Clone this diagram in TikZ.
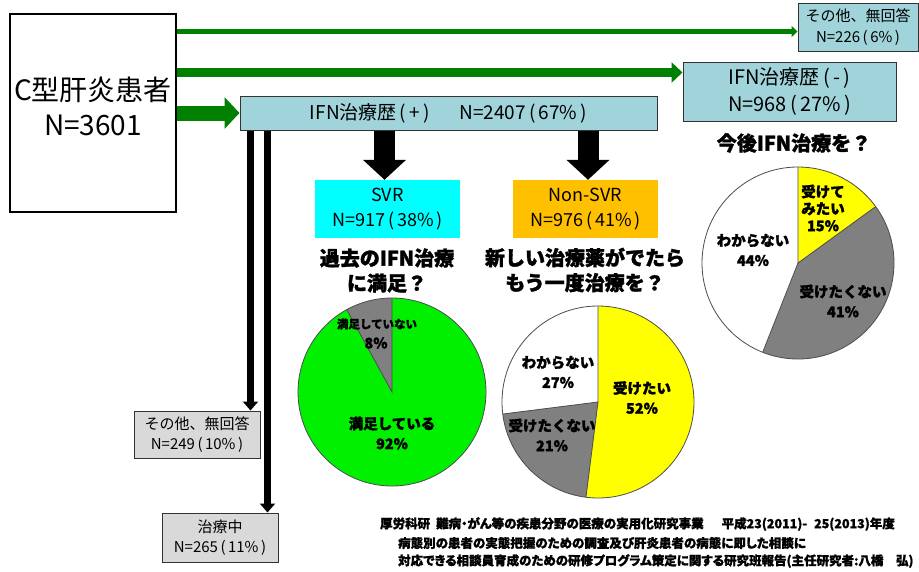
\documentclass[tikz,border=0pt]{standalone}
\usepackage{fontspec}
\setmainfont{Noto Sans CJK JP}
\newfontfamily\citefont{Noto Sans CJK JP}[RawFeature=+palt, BoldFeatures={FakeBold=1.2}]
\newfontfamily\heavyfont{Noto Sans CJK JP}[BoldFeatures={FakeBold=1.6}]
\usetikzlibrary{arrows.meta}
\definecolor{boxteal}{RGB}{160,212,218}
\definecolor{boxgray}{RGB}{217,217,217}
\definecolor{arrgreen}{RGB}{0,128,0}
\definecolor{svrcyan}{RGB}{0,255,255}
\definecolor{nsvrorange}{RGB}{255,192,0}
\definecolor{piegreen}{RGB}{0,240,0}
\definecolor{piegray}{RGB}{128,128,128}
\definecolor{pieyellow}{RGB}{255,255,0}
\newcommand{\pct}[1]{\,(\,#1\%\,)}
\begin{document}
\begin{tikzpicture}[x=1pt,y=-1pt,
  tbox/.style={draw=black!80, line width=1pt, fill=boxteal, align=center, inner sep=0pt},
  gbox/.style={draw=black!80, line width=1pt, fill=boxgray, align=center, inner sep=0pt},
  cbox/.style={align=center, inner sep=0pt},
  gthin/.style={arrgreen, line width=5pt, -{Triangle[length=6pt,width=11pt]}},
  gmid/.style={arrgreen, line width=9pt, -{Triangle[length=11pt,width=20pt]}},
  gthick/.style={arrgreen, line width=15pt, -{Triangle[length=15pt,width=31pt]}},
  bthin/.style={black, line width=7pt, -{Triangle[length=9pt,width=15pt]}},
  bthick/.style={black, line width=21pt, -{Triangle[length=20pt,width=42pt]}},
  heading/.style={font=\heavyfont\bfseries\fontsize{20}{25}\selectfont, align=center, inner sep=0pt},
  plabel/.style={font=\heavyfont\bfseries\fontsize{14.5}{20}\selectfont, align=center, inner sep=0pt},
  pieline/.style={draw=black!70, line width=0.8pt},
  citeline/.style={anchor=west, inner sep=0pt, font=\citefont\bfseries\fontsize{12.5}{14}\selectfont}
]
\useasboundingbox (0,0) rectangle (919,571);
\fill[white] (0,0) rectangle (919,571);

% main box
\node[draw=black, line width=1.8pt, fill=white, minimum width=166pt, minimum height=198pt, inner sep=0pt] (pat) at (93,113) {};
\node[cbox, font=\fontsize{28}{35}\selectfont] (pattext) at (93,106) {C型肝炎患者\\N=3601};

% boxes
\node[tbox, minimum width=120pt, minimum height=48pt, font=\fontsize{15}{21}\selectfont] (oth1) at (858,27) {その他、無回答\\N=226\pct{6}};
\node[tbox, minimum width=213pt, minimum height=59pt, font=\fontsize{20}{27}\selectfont] (ifnm) at (789.5,91.5) {IFN治療歴\,(\,-\,)\\N=968\pct{27}};
\node[tbox, minimum width=417pt, minimum height=34pt, font=\fontsize{19}{24}\selectfont] (ifnp) at (448.5,113) {IFN治療歴\,(\,+\,)\hspace{30pt}N=2407\pct{67}};
\node[cbox, fill=svrcyan, minimum width=145pt, minimum height=58pt, font=\fontsize{18}{25}\selectfont] (svr) at (387.5,209) {SVR\\N=917\pct{38}};
\node[cbox, fill=nsvrorange, minimum width=145pt, minimum height=58pt, font=\fontsize{18}{25}\selectfont] (nsvr) at (585.5,209) {Non-SVR\\N=976\pct{41}};
\node[gbox, minimum width=126pt, minimum height=47pt, font=\fontsize{15}{20}\selectfont] (oth2) at (197,434.5) {その他、無回答\\N=249\pct{10}};
\node[gbox, minimum width=116pt, minimum height=49pt, font=\fontsize{15}{20}\selectfont] (tx) at (220,537.5) {治療中\\N=265\pct{11}};

% arrows
\draw[gthin] (pat.east |- 0,31.5) -- (oth1.west |- 0,31.5);
\draw[gmid] (pat.east |- 0,72.5) -- (ifnm.west |- 0,72.5);
\draw[gthick] (pat.east |- ifnp.west) -- (ifnp.west);
\draw[bthin] (250.5,0 |- ifnp.south) -- (250.5,0 |- oth2.north);
\draw[bthin] (267.5,0 |- ifnp.south) -- (267.5,0 |- tx.north);
\draw[bthick] (384.5,0 |- ifnp.south) -- (384.5,0 |- svr.north);
\draw[bthick] (588,0 |- ifnp.south) -- (588,0 |- nsvr.north);

% headings
\node[heading] (h1) at (387,270.5) {過去のIFN治療\\に満足？};
\node[heading] (h2) at (585,270) {新しい治療薬がでたら\\もう一度治療を？};
\node[heading] (h3) at (794,143) {今後IFN治療を？};

% pie 1
\begin{scope}[shift={(392,392)}, y=1pt]
  \fill[piegreen] (0,0) -- (118.8:94) arc[start angle=118.8, end angle=450, radius=94] -- cycle;
  \fill[piegray] (0,0) -- (90:94) arc[start angle=90, end angle=118.8, radius=94] -- cycle;
  \draw[pieline] (0,0) circle[radius=94];
  \draw[pieline] (90:94) -- (0,0) -- (118.8:94);
\end{scope}
% pie 2
\begin{scope}[shift={(598,402)}, y=1pt]
  \fill[pieyellow] (0,0) -- (-97.2:96) arc[start angle=-97.2, end angle=90, radius=96] -- cycle;
  \fill[white] (0,0) -- (90:96) arc[start angle=90, end angle=187.2, radius=96] -- cycle;
  \fill[piegray] (0,0) -- (187.2:96) arc[start angle=187.2, end angle=262.8, radius=96] -- cycle;
  \draw[pieline] (0,0) circle[radius=96];
  \draw[pieline] (90:96) -- (0,0) -- (187.2:96);
  \draw[pieline] (0,0) -- (262.8:96);
\end{scope}
% pie 3
\begin{scope}[shift={(798,263)}, y=1pt]
  \fill[pieyellow] (0,0) -- (36:96) arc[start angle=36, end angle=90, radius=96] -- cycle;
  \fill[piegray] (0,0) -- (-111.6:96) arc[start angle=-111.6, end angle=36, radius=96] -- cycle;
  \fill[white] (0,0) -- (90:96) arc[start angle=90, end angle=248.4, radius=96] -- cycle;
  \draw[pieline] (0,0) circle[radius=96];
  \draw[pieline] (90:96) -- (0,0) -- (36:96);
  \draw[pieline] (0,0) -- (-111.6:96);
\end{scope}

% pie labels
\node[plabel, font=\heavyfont\bfseries\fontsize{11.5}{15}\selectfont] (p1a) at (377,324) {満足していない};
\node[plabel] (p1b) at (376,343) {8\%};
\node[plabel] (p1c) at (392,433) {満足している\\92\%};
\node[plabel] (p2a) at (558,372) {わからない\\27\%};
\node[plabel] (p2b) at (642,397.5) {受けたい\\52\%};
\node[plabel] (p2c) at (552,435) {受けたくない\\21\%};
\node[plabel, font=\heavyfont\bfseries\fontsize{14.5}{17}\selectfont] (p3a) at (823,208) {受けて\\みたい\\15\%};
\node[plabel] (p3b) at (753,250) {わからない\\44\%};
\node[plabel] (p3c) at (843,301) {受けたくない\\41\%};

% citation
\node[citeline] (cite1) at (380,524) {厚労科研\hspace{6pt}難病・がん等の疾患分野の医療の実用化研究事業\hspace{18pt}平成23(2011)-\hspace{7pt}25(2013)年度};
\node[citeline] (cite2) at (398,543) {病態別の患者の実態把握のための調査及び肝炎患者の病態に即した相談に};
\node[citeline] (cite3) at (398,561) {対応できる相談員育成のための研修プログラム策定に関する研究班報告(主任研究者:八橋　弘)};
\end{tikzpicture}
\end{document}
